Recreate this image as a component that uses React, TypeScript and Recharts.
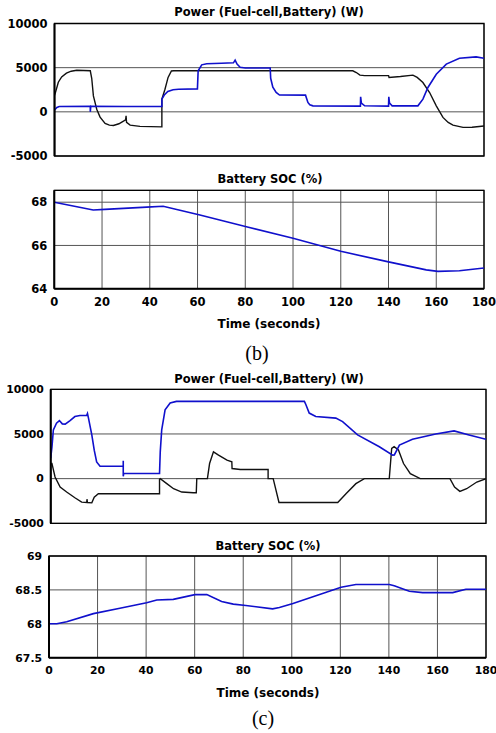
import React from 'react';
import { LineChart, Line, XAxis, YAxis, CartesianGrid, ReferenceArea } from 'recharts';

// ---------- data ----------
const timeTicks = [0, 20, 40, 60, 80, 100, 120, 140, 160, 180];
const powerTicks = [-5000, 0, 5000, 10000];
const socTicksB = [64, 66, 68];
const socTicksC = [67.5, 68, 68.5, 69];

// (b) power, fuel-cell (blue) [t, W]
const bFuelCell: [number, number][] = [
  [0, 200], [1, 500], [2, 600], [15, 620], [15, 0], [15.2, 620], [30, 600], [45, 600],
  [45, 1440], [46, 1900], [47.5, 2300], [49.7, 2500], [52, 2560], [59.9, 2600],
  [60.2, 4640], [61.7, 5320], [63.8, 5450], [70, 5500], [75, 5550], [75.7, 5850],
  [76.5, 5400], [77.8, 5050], [80, 4970], [90.4, 4970], [90.6, 3800], [91.5, 2800],
  [92.9, 2190], [94.3, 1900], [105.2, 1890], [106.2, 1060], [107, 800], [108.3, 680],
  [128.2, 650], [128.3, 1700], [128.6, 1000], [130, 680], [140, 650], [140.1, 1700],
  [140.4, 1000], [141.5, 680], [152.3, 680], [154.4, 1440], [156.5, 2760], [160, 4260],
  [164.2, 5400], [169.7, 6070], [176.7, 6220], [180, 6070],
];
// (b) power, battery (black)
const bBattery: [number, number][] = [
  [0, -5000], [0, 1800], [1.6, 3350], [3, 3950], [5, 4380], [7, 4600], [9.3, 4700],
  [15, 4650], [15.6, 3800], [16.3, 1800], [17.7, 300], [19.1, -600], [21.2, -1300],
  [23, -1500], [24.7, -1550], [27, -1350], [28.9, -1050], [29.8, -900], [30, -450],
  [30.2, -1200], [31.7, -1500], [35.8, -1650], [45, -1700], [45, 1440], [46.3, 2560],
  [47.6, 3900], [49, 4620], [50, 4650], [90, 4650], [125, 4650], [126.5, 4450],
  [128, 4150], [130, 4100], [140, 4100], [140.2, 3900], [145, 4000], [150.2, 4150],
  [152, 3900], [154.4, 3320], [157.2, 2190], [160, 680], [162.8, -630], [165, -1200],
  [167, -1500], [171.2, -1760], [175, -1750], [180, -1600],
];
// (b) battery SOC (%)
const bSoc: [number, number][] = [
  [0, 68.0], [16.3, 67.64], [21.2, 67.67], [38.7, 67.77], [45.6, 67.81], [61, 67.41],
  [81.3, 66.84], [100, 66.33], [120, 65.73], [140, 65.24], [155.8, 64.87],
  [160.7, 64.8], [169.7, 64.83], [180, 64.96],
];
// (c) power, fuel-cell (blue)
const cFuelCell: [number, number][] = [
  [0, 2300], [0.5, 3500], [1.1, 5450], [2.4, 6210], [3.6, 6500], [4.8, 6130], [6, 6100],
  [8, 6500], [10, 6950], [12.1, 7060], [14.9, 7100], [15.2, 7300], [15.6, 6800],
  [17, 4890], [18, 3190], [19, 1870], [20.4, 1390], [30, 1390], [30, 2010], [30, 260],
  [30.2, 580], [45, 580], [45.3, 3000], [45.9, 5450], [47.3, 7710], [49.4, 8460],
  [52, 8650], [104.9, 8650], [105.5, 8300], [106.9, 7340], [109.6, 6950],
  [117.9, 6770], [120.7, 6390], [126.9, 4890], [135.9, 3570], [141.4, 2630],
  [142.1, 2650], [144.2, 3760], [149.6, 4400], [159.2, 5000], [166.8, 5340],
  [173, 4890], [180, 4400],
];
// (c) power, battery (black)
const cBattery: [number, number][] = [
  [0, -5000], [0, 1700], [0.5, 1700], [1.8, 180], [3.9, -950], [6.6, -1500],
  [10, -2140], [12.8, -2630], [14.9, -2670], [15, -2300], [15.2, -2670], [17, -2710],
  [18, -2070], [19.7, -1690], [30, -1690], [45, -1690], [45, -80], [45.3, 0],
  [48, -560], [50.8, -1130], [54.2, -1500], [59, -1580], [60.2, -1580], [60.4, 0],
  [64.8, 0], [65.7, 1690], [67.3, 3000], [69.4, 2630], [72.9, 2070], [74.9, 1880],
  [75, 1130], [78.4, 1020], [89.9, 1020], [89.9, 0], [92, 0], [94.4, -2670],
  [118.7, -2670], [122.1, -1690], [126.2, -560], [129.7, 0], [140, 0], [141, 3390],
  [142, 3580], [143.8, 3200], [145.9, 1690], [148.7, 560], [152.8, 0], [165.1, 0],
  [167, -950], [169.2, -1430], [172, -1130], [176.2, -380], [180, 0],
];
// (c) battery SOC (%)
const cSoc: [number, number][] = [
  [0, 68.0], [3.2, 68.0], [7.3, 68.03], [18.3, 68.15], [29.2, 68.23], [40.2, 68.31],
  [44.4, 68.35], [51.2, 68.36], [60.1, 68.43], [65, 68.43], [71.1, 68.33],
  [75.9, 68.29], [81.1, 68.27], [92.1, 68.22], [94.9, 68.24], [100.5, 68.3],
  [120.3, 68.54], [126.4, 68.58], [140.2, 68.58], [142.2, 68.56], [148.4, 68.48],
  [153.9, 68.46], [166.3, 68.46], [171.7, 68.51], [180, 68.51],
];

const powerTitle = 'Power (Fuel-cell,Battery) (W)';
const socTitle = 'Battery SOC (%)';
const timeLabel = 'Time (seconds)';

// ---------- helpers ----------
const toRows = (a: [number, number][]) => a.map(([t, v]) => ({ t, v }));

const BLUE = '#1010cc';
const FONT = '"DejaVu Sans", sans-serif';

type PanelProps = {
  top: number;
  height: number;
  margin: { top: number; right: number; bottom: number; left: number };
  yWidth: number;
  xHeight: number;
  showX: boolean;
  yDomain: [number, number];
  yTicks: number[];
  series: { data: [number, number][]; color: string; width: number }[];
  fontSize: number;
};

function Panel(p: PanelProps) {
  const tickStyle = { fill: '#000', fontSize: p.fontSize, fontWeight: 'bold', fontFamily: FONT };
  return (
    <div style={{ position: 'absolute', left: 0, top: p.top }}>
      <LineChart width={496} height={p.height} margin={p.margin}>
        <CartesianGrid stroke="#555" strokeWidth={1} />
        <ReferenceArea
          x1={0}
          x2={180}
          y1={p.yDomain[0]}
          y2={p.yDomain[1]}
          stroke="#000"
          strokeWidth={1.3}
          fill="none"
          fillOpacity={0}
        />
        <XAxis
          type="number"
          dataKey="t"
          domain={[0, 180]}
          ticks={timeTicks}
          interval={0}
          allowDataOverflow
          height={p.xHeight}
          tick={p.showX ? tickStyle : false}
          tickLine={false}
          tickSize={0}
          tickMargin={9}
          axisLine={{ stroke: '#000', strokeWidth: 2 }}
        />
        <YAxis
          type="number"
          domain={p.yDomain}
          ticks={p.yTicks}
          interval={0}
          allowDataOverflow
          width={p.yWidth}
          tick={tickStyle}
          tickLine={false}
          tickSize={0}
          tickMargin={7}
          axisLine={{ stroke: '#000', strokeWidth: 2 }}
        />
        {p.series.map((s, i) => (
          <Line
            key={i}
            data={toRows(s.data)}
            dataKey="v"
            type="linear"
            stroke={s.color}
            strokeWidth={s.width}
            dot={false}
            activeDot={false}
            isAnimationActive={false}
          />
        ))}
      </LineChart>
    </div>
  );
}

const Text = ({ x, y, children, size, serif }: { x: number; y: number; children: React.ReactNode; size: number; serif?: boolean }) => (
  <div
    style={{
      position: 'absolute',
      left: x,
      top: y,
      transform: 'translate(-50%, -50%)',
      whiteSpace: 'nowrap',
      lineHeight: 1,
      fontSize: size,
      fontWeight: serif ? 'normal' : 'bold',
      fontFamily: serif ? '"Liberation Serif", "Times New Roman", serif' : FONT,
      color: '#000',
    }}
  >
    {children}
  </div>
);

export default function App() {
  return (
    <div style={{ position: 'absolute', left: 0, top: 0, width: 496, height: 733, background: '#fff', overflow: 'hidden' }}>
      {/* (b) power */}
      <Panel
        top={0}
        height={170}
        margin={{ top: 23.5, right: 12, bottom: 14, left: 0 }}
        yWidth={54.5}
        xHeight={0}
        showX={false}
        yDomain={[-5000, 10000]}
        yTicks={powerTicks}
        fontSize={11.5}
        series={[
          { data: bBattery, color: '#111', width: 1.4 },
          { data: bFuelCell, color: BLUE, width: 1.6 },
        ]}
      />
      <Text x={269} y={13} size={11.5}>{powerTitle}</Text>

      {/* (b) SOC */}
      <Panel
        top={170}
        height={200}
        margin={{ top: 20.3, right: 12, bottom: 41.3, left: 0 }}
        yWidth={54.3}
        xHeight={40}
        showX={true}
        yDomain={[64, 68.55]}
        yTicks={socTicksB}
        fontSize={11.5}
        series={[{ data: bSoc, color: BLUE, width: 1.6 }]}
      />
      <Text x={270} y={180} size={11.5}>{socTitle}</Text>
      <Text x={269} y={324} size={12}>{timeLabel}</Text>
      <Text x={257} y={353} size={20} serif>(b)</Text>

      {/* (c) power */}
      <Panel
        top={370}
        height={170}
        margin={{ top: 19.3, right: 10, bottom: 16.7, left: 0 }}
        yWidth={50.7}
        xHeight={0}
        showX={false}
        yDomain={[-5000, 10000]}
        yTicks={powerTicks}
        fontSize={10.8}
        series={[
          { data: cBattery, color: '#111', width: 1.4 },
          { data: cFuelCell, color: BLUE, width: 1.6 },
        ]}
      />
      <Text x={269} y={380} size={11.5}>{powerTitle}</Text>

      {/* (c) SOC */}
      <Panel
        top={540}
        height={160}
        margin={{ top: 16, right: 10, bottom: 12.3, left: 0 }}
        yWidth={49}
        xHeight={30}
        showX={true}
        yDomain={[67.5, 69]}
        yTicks={socTicksC}
        fontSize={10.8}
        series={[{ data: cSoc, color: BLUE, width: 1.6 }]}
      />
      <Text x={268} y={547} size={11.5}>{socTitle}</Text>
      <Text x={268} y={693} size={12}>{timeLabel}</Text>
      <Text x={263} y={718} size={20} serif>(c)</Text>
    </div>
  );
}
